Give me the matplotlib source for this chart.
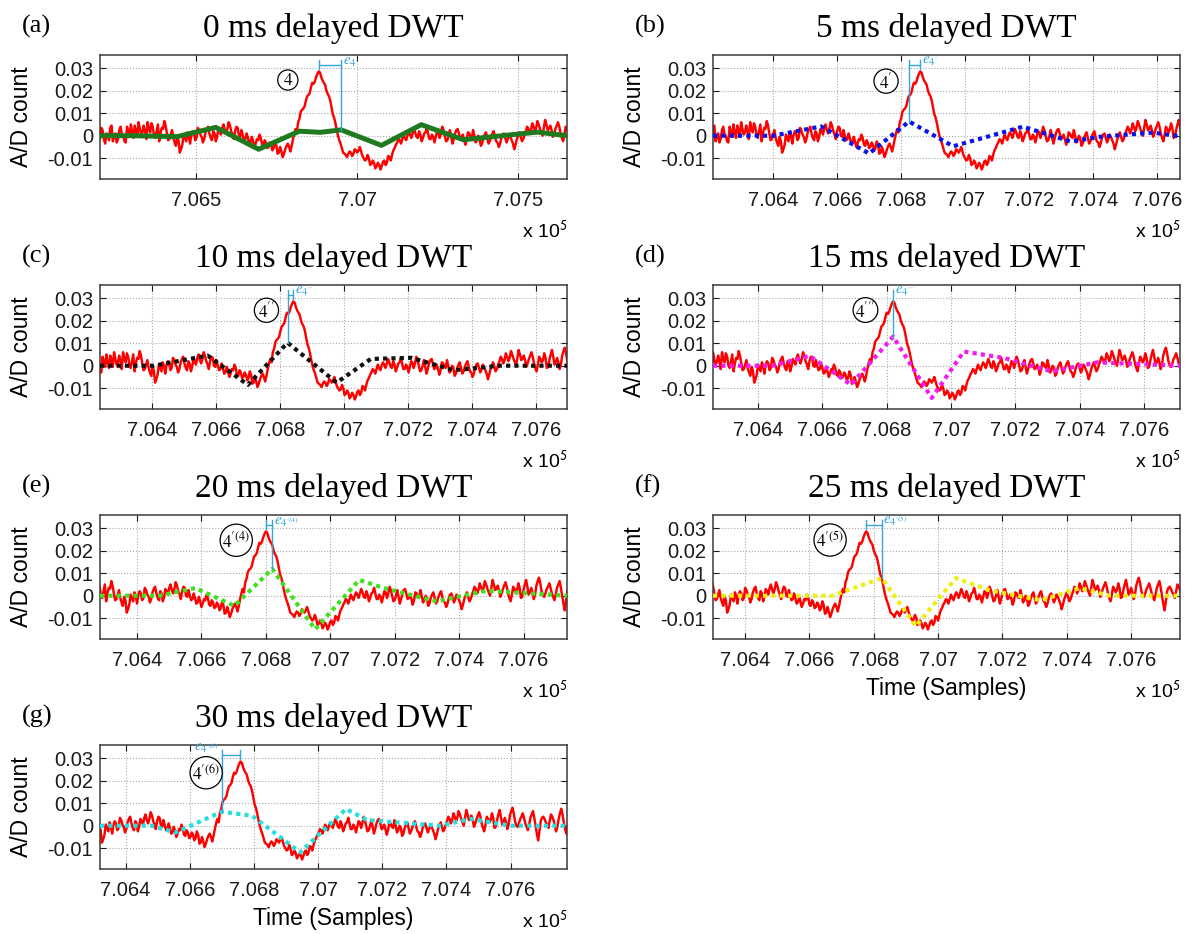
import numpy as np
import matplotlib
matplotlib.use('Agg')
import matplotlib.pyplot as plt
from matplotlib.ticker import FuncFormatter

plt.rcParams['font.family'] = 'Liberation Sans'
plt.rcParams['mathtext.fontset'] = 'stix'

# ---- data ----
# recorded signal (red), relative to its peak, in units of 1e-3 A/D count
# samples at -704, -696, ... (every 8)
red_rel = np.arange(-704, 1033, 8)
red_milli = [
    1.5, -2.0, 3.0, -1.0, 2.5, -3.5, 0.5, 3.5, -2.5, 1.0, -1.5, 4.0, 0.0, -3.0, 2.0, 5.0, -1.0, 2.5, 6.0,
    0.5, 4.5, -1.5, 3.0, 5.5, 0.0, 2.0, -2.5, 3.5, 6.5, 1.0, -1.5, 2.5,
    -3.0, -0.5, -7.5, -4.0, -1.0, 1.5, -3.5,
    2.0, -2.0, 3.5, 0.5, -3.0, 1.5, 4.0, -1.0, 2.0, -2.5, 3.0, 0.5,
    5.0, 1.0, 6.0, 2.0, -1.5, 4.0, 0.0, 2.5,
    -2.0, 1.0, -3.5, -0.5, -5.0, -1.5, 0.5, -4.0, -2.0, -5.5,
    -3.0, -6.5, -2.5, -8.0, -5.0, -9.5, -6.0, -3.5, -7.0,
    -1.5, 3.0, 6.0, 10.5, 12.0, 15.5, 18.0, 21.5, 23.0, 26.0,
    28.5, 26.0, 23.5, 20.0, 17.5, 12.5, 8.0, 2.5, -2.0, -5.5,
    -8.0, -9.5, -7.0, -9.0, -6.0, -7.5, -5.0, -9.0, -11.0, -8.5,
    -13.0, -11.0, -14.5, -12.0, -15.0, -11.5, -13.0, -9.0, -11.0, -6.5,
    -4.0, -1.5, -3.5, 0.5, -2.0, 1.5, -1.0, 3.0, -0.5, 2.0,
    -2.5, 1.0, 3.5, -1.5, 0.5, -3.0, 2.0, -1.0, 4.0, 0.0,
    -2.0, 2.5, -3.5, 1.0, 3.0, -1.5, 0.5, -4.0, 1.5, -0.5,
    2.5, -3.0, 0.0, -4.5, -1.0, 1.5, -3.5, -0.5, 2.0, -2.5,
    -5.0, -1.0, 1.0, -3.0, 0.5, -2.0, -6.0, -1.5, 1.5, -2.5,
    0.5, 4.0, 1.0, 5.5, 2.0, 6.5, 3.0, 0.0, 7.0, 2.5,
    4.5, -0.5, 3.0, 6.0, 1.0, -2.5, 4.0, 1.5, 5.5, -1.0,
    2.5, 7.0, 0.5, 3.5, -1.5, 4.5, 8.0, 2.0, -0.5, 3.0,
    5.5, 1.0, -2.0, 3.5, 6.5, 0.0, -6.5, 2.0, 4.0, 1.5,
    -1.0, 5.0, 2.5, -2.5, 3.0, 7.5, 1.5, -3.5, 4.0, 1.0,
]
# samples in between, at -700, -692, ...
red_rel_mid = np.arange(-700, 1029, 8)
red_milli_mid = [
    -1.0, 2.5, -2.5, 3.5, -1.5, 1.0, -2.0, 4.5, -0.5, -3.0, 2.5, 0.5, -2.5, 4.0, -0.5, 1.5, 4.5, -0.5,
    3.0, 1.5, 2.0, 6.0, 1.5, 4.0, -1.0, 5.0, 1.0, 3.0, 4.5, -2.0, 0.5,
    -1.0, -4.5, -2.0, -6.0, 0.5, -2.5, 0.0,
    0.5, 1.0, -1.0, 2.5, -0.5, -1.5, 3.0, 1.0, -2.0, 1.0, -0.5, 2.0,
    3.5, 2.5, 3.0, 4.5, 0.5, 2.0, 3.5, -0.5,
    0.0, -1.5, -1.0, -3.0, -2.5, -3.5, -2.0, -1.0, -4.5, -3.0,
    -5.0, -4.0, -5.5, -4.0, -7.5, -7.0, -8.0, -4.5, -5.0,
    -4.5, 1.0, 1.5, 7.5, 11.5, 13.0, 17.5, 19.0, 23.5, 24.0,
    27.5, 28.0, 24.5, 22.5, 18.5, 15.5, 9.5, 5.5, 0.0, -3.5,
    -7.5, -8.5, -8.0, -7.5, -8.0, -6.5, -6.5, -7.0, -10.0, -10.5,
    -10.0, -12.5, -12.0, -13.5, -13.0, -13.5, -11.0, -12.0, -9.5, -8.5,
    -5.5, -3.0, -2.0, -1.5, -1.0, 0.0, 0.5, 1.0, 1.5, -1.0,
    0.5, -1.0, 1.5, 1.0, -1.5, -0.5, -0.5, 1.5, 1.0, 2.5,
    -2.5, 0.0, -0.5, -1.5, 2.5, 1.0, -1.0, -1.5, -2.0, 1.0,
    -1.0, 0.0, -2.0, -1.0, -3.5, 0.5, -1.0, -2.5, 1.0, -0.5,
    -3.0, -3.5, 0.5, -1.0, -1.5, -0.5, -3.5, -4.0, 0.0, -0.5,
    -1.5, 2.0, 3.0, 2.5, 4.0, 3.5, 5.0, 1.5, 3.5, 5.0,
    3.0, 2.5, 1.0, 4.5, 4.0, -1.0, 0.5, 3.0, 2.5, 3.5,
    -0.5, 5.0, 4.0, 1.5, 1.5, 0.5, 6.5, 5.5, 0.0, 1.0,
    4.0, 3.5, -0.5, 0.5, 5.0, 3.5, -3.5, -2.5, 3.5, 3.0,
    0.5, 2.0, 4.0, 0.0, -0.5, 5.5, 5.0, -1.5, 0.0, 2.5,
]
assert len(red_milli) == len(red_rel) and len(red_milli_mid) == len(red_rel_mid)
red_x = np.empty(len(red_rel) + len(red_rel_mid))
red_x[0::2], red_x[1::2] = red_rel, red_rel_mid
red_vals = np.empty_like(red_x)
red_vals[0::2], red_vals[1::2] = red_milli, red_milli_mid
red_vals *= 1e-3  # unit conversion only

delays_ms = [0, 5, 10, 15, 20, 25, 30]
panel_letters = ['(a)', '(b)', '(c)', '(d)', '(e)', '(f)', '(g)']
red_peak = [706880, 706860, 706842, 706820, 706800, 706776, 706758]
x_limits = [(706200, 707652), (706212, 707672), (706238, 707697), (706260, 707712),
            (706285, 707735), (706300, 707752), (706320, 707776)]

# delayed DWT reconstructions (piecewise linear knots)
dwt_x = [
    [706200, 706300, 706440, 706560, 706693, 706820, 706885, 706950, 707075, 707199, 707330, 707430, 707560, 707652],
    [706212, 706400, 706550, 706700, 706825, 706963, 707181, 707330, 707420, 707588, 707672],
    [706238, 706406, 706574, 706700, 706824, 706977, 707084, 707211, 707343, 707488, 707697],
    [706260, 706446, 706560, 706689, 706820, 706940, 707040, 707166, 707312, 707455, 707712],
    [706285, 706470, 706581, 706702, 706820, 706953, 707090, 707166, 707330, 707485, 707735],
    [706300, 706670, 706825, 706930, 707055, 707160, 707320, 707440, 707535, 707752],
    [706320, 706480, 706555, 706700, 706794, 706944, 707087, 707153, 707380, 707475, 707600, 707776],
]
dwt_y = [
    [0.0, 0.0, -0.0004, 0.0037, -0.006, 0.002, 0.0015, 0.0026, -0.0043, 0.0049, -0.0018, -0.0003, 0.0016, 0.0],
    [0.0, 0.0, 0.0041, -0.0079, 0.0063, -0.0047, 0.004, -0.0026, -0.0005, 0.0014, -0.0003],
    [0.0, 0.0, 0.0045, -0.0085, 0.0102, -0.0075, 0.003, 0.0035, -0.002, 0.0, 0.0],
    [0.0, 0.0, 0.0044, -0.0084, 0.0129, -0.0143, 0.0063, 0.0034, -0.0025, 0.0015, 0.0],
    [0.0, 0.0, 0.0034, -0.0045, 0.0119, -0.0149, 0.007, 0.0034, -0.0025, 0.0022, 0.0],
    [0.0, 0.0, 0.0078, -0.0135, 0.0078, 0.0024, -0.002, 0.0034, 0.0, 0.0],
    [0.0, 0.0, -0.003, 0.0062, 0.0044, -0.0118, 0.0074, 0.0025, 0.0, 0.003, 0.0, 0.0],
]
dwt_colors = ['#1f7a1f', '#0a14e6', '#111111', '#f21cf2', '#3fe01c', '#eeee10', '#27dede']

# detection points and labels
det_x = [706950, 706825, 706824, 706820, 706820, 706825, 706700]
circle_labels = [r'$4$', r"$4'$", r"$4''$", r"$4'''$",
                 r'$4^{\prime(4)}$', r'$4^{\prime(5)}$', r'$4^{\prime(6)}$']
circle_x = [706784, 706753, 706758, 706734, 706708, 706664, 706651]
circle_y = [0.0247, 0.0242, 0.0246, 0.0247, 0.0246, 0.0247, 0.0235]
e_labels = [r'$e_4$', r"$e_{4'}$", r"$e_{4''}$", r"$e_{4'''}$",
            r'$e_{4^{\prime(4)}}$', r'$e_{4^{\prime(5)}}$', r'$e_{4^{\prime(6)}}$']
e_label_x = [706955, 706866, 706848, 706826, 706826, 706830, 706690]
e_label_y = [0.0325, 0.0330, 0.0330, 0.0332, 0.0325, 0.0332, 0.0343]

# ---- figure ----
W, H = 1189, 934
fig = plt.figure(figsize=(W / 100, H / 100), dpi=100)
col_left = [100, 713]
row_top = [55, 285, 515, 745]
aw, ah = 467, 124
ann_c = '#37a5d9'
serif = 'Liberation Serif'

for i in range(7):
    r, c = divmod(i, 2)
    ax = fig.add_axes([col_left[c] / W, 1 - (row_top[r] + ah) / H, aw / W, ah / H])

    ax.plot(red_x + red_peak[i], red_vals, color='#ff0000', lw=1.75, zorder=2)
    if i == 0:
        ax.plot(dwt_x[i], dwt_y[i], color=dwt_colors[i], lw=3.6, zorder=3)
    else:
        ax.plot(dwt_x[i], dwt_y[i], color=dwt_colors[i], lw=3.0,
                ls=(0, (1, 1)), dash_capstyle='butt', zorder=3)

    # error bracket between signal peak and DWT detection
    pk, dx = red_peak[i], det_x[i]
    dy = np.interp(dx, dwt_x[i], dwt_y[i])
    ax.plot([dx, dx], [0.0336, dy], color=ann_c, lw=1.0, zorder=4)
    if abs(dx - pk) > 5:
        ax.plot([pk, pk], [0.0336, 0.0294], color=ann_c, lw=1.0, zorder=4)
        ax.plot([min(pk, dx), max(pk, dx)], [0.0314, 0.0314], color=ann_c, lw=1.0, zorder=4)
    ax.text(e_label_x[i], e_label_y[i], e_labels[i], color=ann_c, fontsize=11,
            ha='right' if i == 6 else 'left', va='center', zorder=5)
    ax.text(circle_x[i], circle_y[i], circle_labels[i], fontsize=12.5,
            ha='center', va='center', zorder=5,
            bbox=dict(boxstyle='circle,pad=0.12', fc='white', ec='black', lw=0.9))

    ax.set_xlim(*x_limits[i])
    ax.set_ylim(-0.0192, 0.0358)
    if i == 0:
        ax.set_xticks([706500, 707000, 707500])
    else:
        ax.set_xticks(np.arange(706400, 707601, 200))
    ax.xaxis.set_major_formatter(FuncFormatter(lambda v, p: f'{v / 1e5:g}'))
    ax.set_yticks([-0.01, 0, 0.01, 0.02, 0.03])
    ax.set_yticklabels(['-0.01', '0', '0.01', '0.02', '0.03'])
    ax.tick_params(direction='in', top=True, right=True, length=4, width=0.8,
                   labelsize=14.5, colors='#1a1a1a')
    ax.tick_params(axis='x', pad=9)
    ax.tick_params(axis='y', pad=5)
    ax.grid(True, ls=':', color='#a8a8a8', lw=0.8)
    ax.set_axisbelow(True)
    for sp in ax.spines.values():
        sp.set_color('#3a3a3a')
        sp.set_linewidth(1.1)

    ax.set_title(f'{delays_ms[i]} ms delayed DWT', fontfamily=serif, fontsize=24, pad=13)
    ax.text(-0.167, 1.23, panel_letters[i], transform=ax.transAxes, fontfamily=serif,
            fontsize=19, ha='left', va='center')
    ax.text(-0.168, 0.5, 'A/D count', transform=ax.transAxes, rotation=90,
            fontsize=16.5, ha='center', va='center')
    ax.text(1.0, -0.475, r'x 10$^{\mathsf{5}}$', transform=ax.transAxes,
            fontsize=14, ha='right', va='baseline')
    if i >= 5:
        ax.text(0.5, -0.40, 'Time (Samples)', transform=ax.transAxes,
                fontsize=16.5, ha='center', va='center')

fig.savefig('out.png', dpi=100, facecolor='white')
